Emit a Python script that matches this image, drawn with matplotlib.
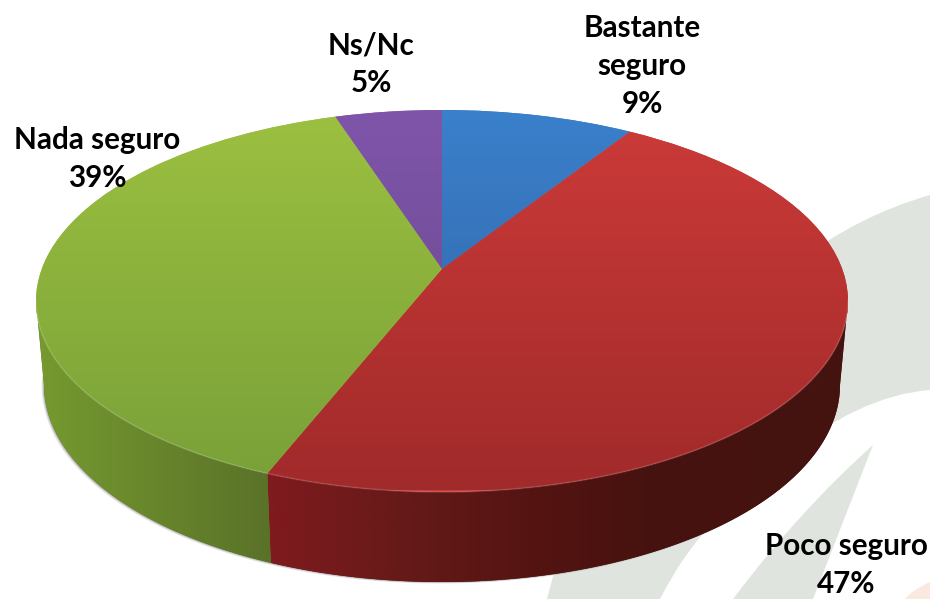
import numpy as np
import matplotlib
matplotlib.use("Agg")
import matplotlib.pyplot as plt
from matplotlib.colors import LinearSegmentedColormap as LSC
from matplotlib.patches import Polygon, PathPatch
from matplotlib.path import Path
from matplotlib.transforms import Transform

labels = ["Bastante\nseguro\n9%", "Poco seguro\n47%", "Nada seguro\n39%", "Ns/Nc\n5%"]
values = [9, 47, 39, 5]
top_colors = [("#3a80cb", "#315f9e"), ("#cc3b39", "#a12a2a"), ("#9cc040", "#78a038"), ("#7f55aa", "#664788")]
wall_colors = [[(0, "#1f3f66"), (1, "#1f3f66")],
               [(0, "#801a1f"), (.25, "#641a18"), (.45, "#551412"), (.65, "#47120f"), (1, "#451410")],
               [(0, "#769a30"), (1, "#5a7228")],
               [(0, "#3e2a55"), (1, "#3e2a55")]]
label_xy = [(642, 66), (846, 565), (97, 159), (371, 64)]


class Persp(Transform):
    input_dims = output_dims = 2
    is_separable = False
    has_inverse = False

    def __init__(self, cx, cy, rx, ry, a=0.168):
        super().__init__()
        self.p = (cx, cy, rx, ry, a)

    def transform_non_affine(self, v):
        cx, cy, rx, ry, a = self.p
        v = np.asarray(v, float)
        d = 1 + a * v[:, 1]
        xp = v[:, 0] * np.sqrt(1 - a * a) / d
        yp = (v[:, 1] + a) / d
        return np.column_stack([cx + rx * xp, cy - ry * yp])


fig = plt.figure(figsize=(9.30, 5.99), dpi=100)
ax = fig.add_axes([0, 0, 1, 1])
wedges, _ = ax.pie(values, startangle=90, counterclock=False, radius=1,
                   wedgeprops=dict(linewidth=0))
ax.set_aspect("auto")
ax.set_xlim(0, 930)
ax.set_ylim(599, 0)
ax.axis("off")

# faint background watermark
wm = "#dfe5de"
def blob(pts, color=wm, z=0):
    verts = [p for p, _ in pts]
    codes = [c for _, c in pts]
    ax.add_patch(PathPatch(Path(verts, codes), fc=color, ec="none", zorder=z))
M, C, L, Z = Path.MOVETO, Path.CURVE3, Path.LINETO, Path.CLOSEPOLY
blob([((800, 260), M), ((860, 215), C), ((930, 195), C), ((930, 390), L),
      ((860, 395), C), ((780, 460), C), ((600, 420), L), ((800, 260), Z)])
blob([((873, 445), M), ((800, 510), C), ((733, 599), C), ((813, 599), L), ((873, 445), Z)])
blob([((720, 515), M), ((685, 550), C), ((660, 599), C), ((547, 599), L), ((560, 550), L), ((720, 515), Z)])
blob([((930, 582), M), ((912, 590), C), ((905, 599), C), ((930, 599), L), ((930, 582), Z)], color="#fbe9e0")

top = Persp(442, 301, 406, 191)
bottom = Persp(442, 385, 398, 197)
top_e = Persp(442, 301, 406, 191, a=0.0)
bottom_e = Persp(442, 385, 398, 197, a=0.0)


def param_angle(theta_deg):
    """Ellipse parameter (deg) of the points of the perspective rim."""
    t = np.radians(theta_deg)
    cx, cy, rx, ry, _ = top.p
    p = top.transform(np.column_stack([np.cos(t), np.sin(t)]))
    return np.degrees(np.unwrap(np.arctan2((cy - p[:, 1]) / ry, (p[:, 0] - cx) / rx)))


def arc(tr, deg):
    t = np.radians(deg)
    return tr.transform(np.column_stack([np.cos(t), np.sin(t)]))


# soft shadow below the wall
ring = arc(bottom_e, np.arange(0, 361))
for off, al in [(4, .12), (2.5, .18), (1.2, .25)]:
    ax.add_patch(Polygon(ring + [-off * .6, off * .4], closed=True,
                         fc="#555555", ec="none", alpha=al, zorder=1))

# side walls, only the front half shows
cum = np.concatenate([[0], np.cumsum(values)]) / np.sum(values)
angs = 90 - 360 * cum
for i in range(len(values)):
    phi = param_angle(np.linspace(angs[i], angs[i + 1], 200))
    hi, lo = min(phi[0], 0), max(phi[-1], -180)
    if hi <= lo:
        continue
    d = np.linspace(hi, lo, 200)
    poly = np.vstack([arc(top_e, d), arc(bottom_e, d)[::-1]])
    patch = Polygon(poly, closed=True, fc=wall_colors[i][-1][1], ec="none", zorder=2)
    ax.add_patch(patch)
    im = ax.imshow(np.linspace(0, 1, 256)[None, :],
                   cmap=LSC.from_list("w", wall_colors[i]),
                   extent=[poly[:, 0].min(), poly[:, 0].max(), 599, 0],
                   aspect="auto", zorder=2.1, interpolation="bilinear")
    im.set_clip_path(patch)

# top faces
for w, (c0, c1) in zip(wedges, top_colors):
    w.set_transform(top + ax.transData)
    w.set_facecolor(c0)
    w.set_zorder(3)
    im = ax.imshow(np.linspace(0, 1, 256)[:, None],
                   cmap=LSC.from_list("t", [c0, c1]),
                   extent=[0, 930, 490, 110], aspect="auto", zorder=3.1,
                   interpolation="bilinear")
    im.set_clip_path(w)

# rim highlight along the front edge
rim = arc(top_e, np.linspace(-180, 0, 300))
ax.plot(rim[:, 0], rim[:, 1], color="#ffffff", alpha=.14, lw=1.2, zorder=3.5)

ax.set_xlim(0, 930)
ax.set_ylim(599, 0)
ax.set_aspect("auto")

for s, (x, y) in zip(labels, label_xy):
    ax.text(x, y, s, ha="center", va="center", family="Lato", weight="bold",
            fontsize=21.3, linespacing=1.42, color="black", zorder=5)

fig.savefig("out.png", dpi=100)
